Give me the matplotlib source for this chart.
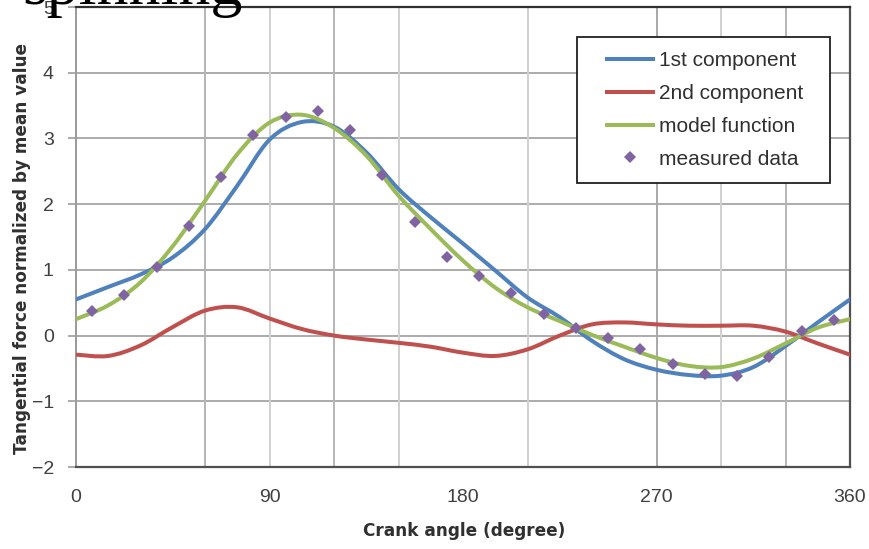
import numpy as np
import matplotlib
matplotlib.use("Agg")
import matplotlib.pyplot as plt
from matplotlib.path import Path
from matplotlib.patches import PathPatch, Rectangle
from matplotlib.lines import Line2D

# ---- data ----
angle = list(range(0, 361, 15))
first_component = [0.55, 0.74, 0.93, 1.19, 1.62, 2.28, 2.98, 3.25, 3.18, 2.79, 2.23, 1.80, 1.40,
                   0.99, 0.58, 0.28, -0.08, -0.36, -0.52, -0.60, -0.61, -0.48, -0.16, 0.20, 0.55]
second_component = [-0.29, -0.31, -0.15, 0.13, 0.38, 0.43, 0.26, 0.10, 0.00, -0.06, -0.11, -0.17, -0.26,
                    -0.31, -0.21, 0.00, 0.17, 0.20, 0.17, 0.15, 0.15, 0.15, 0.06, -0.12, -0.29]
model_function = [0.25, 0.46, 0.81, 1.36, 2.05, 2.76, 3.24, 3.36, 3.16, 2.74, 2.13, 1.62, 1.14,
                  0.73, 0.43, 0.22, 0.01, -0.17, -0.34, -0.46, -0.48, -0.35, -0.12, 0.12, 0.25]
meas_angle = [7.5 + 15 * k for k in range(24)]
measured = [0.37, 0.61, 1.04, 1.67, 2.41, 3.05, 3.32, 3.41, 3.13, 2.45, 1.73, 1.19,
            0.90, 0.65, 0.33, 0.12, -0.03, -0.21, -0.44, -0.59, -0.61, -0.33, 0.07, 0.24]
x_ticks = [0, 90, 180, 270, 360]
y_ticks = [-2, -1, 0, 1, 2, 3, 4, 5]

labels = ["1st component", "2nd component", "model function", "measured data"]
colors = ["#4F81BD", "#C0504D", "#9BBB59", "#8064A2"]


def smooth_path(xs, ys):
    """Excel-style smoothed line: Catmull-Rom segments drawn as cubic Beziers."""
    pts = np.column_stack([xs, ys]).astype(float)
    n = len(pts)
    verts = [pts[0]]
    codes = [Path.MOVETO]
    for i in range(n - 1):
        p0 = pts[i - 1] if i > 0 else pts[i]
        p1 = pts[i]
        p2 = pts[i + 1]
        p3 = pts[i + 2] if i + 2 < n else pts[i + 1]
        verts += [p1 + (p2 - p0) / 6.0, p2 - (p3 - p1) / 6.0, p2]
        codes += [Path.CURVE4] * 3
    return Path(verts, codes)


W, H = 869, 549
fig = plt.figure(figsize=(W / 100, H / 100), dpi=100)
ax = fig.add_axes([76 / W, 1 - 467 / H, (850 - 76) / W, (467 - 7) / H])

ax.set_xlim(0, 360)
ax.set_ylim(-2, 5)

# grid
for v in y_ticks[1:-1]:
    ax.axhline(v, color="#ababab", lw=1.4, zorder=1)
for v, c in [(60, "#b5b5b5"), (90, "#d0d0d0"), (120, "#b5b5b5"), (150, "#d0d0d0"),
             (210, "#d0d0d0"), (270, "#a8a8a8"), (300, "#d0d0d0"), (330, "#b5b5b5")]:
    ax.axvline(v, color=c, lw=1.4, zorder=1)

# smooth lines
for series, col in zip([second_component, first_component, model_function], [colors[1], colors[0], colors[2]]):
    patch = PathPatch(smooth_path(angle, series), facecolor="none", edgecolor=col,
                      lw=2.9, transform=ax.transData, zorder=3, capstyle="round", joinstyle="round")
    ax.add_patch(patch)

ax.plot(meas_angle, measured, linestyle="none", marker="D", markersize=6.5,
        color=colors[3], markeredgewidth=0, zorder=4)

# axes styling
ax.set_xticks(x_ticks)
ax.set_yticks(y_ticks)
ax.tick_params(axis="x", length=0, pad=16, labelsize=14, labelcolor="#404040")
ax.tick_params(axis="y", length=6, width=1.4, color="#ababab", pad=10, labelsize=14, labelcolor="#404040")
for lab in ax.get_xticklabels() + ax.get_yticklabels():
    lab.set_fontfamily("Liberation Sans")
for s in ["top", "right", "bottom"]:
    ax.spines[s].set_color("#505050")
    ax.spines[s].set_linewidth(1.6)
ax.spines["left"].set_color("#9a9a9a")
ax.spines["left"].set_linewidth(1.4)
ax.spines["top"].set_color("#303030")

ax.set_xlabel("Crank angle (degree)", fontsize=12.2, fontweight="bold", color="#303030", va="center")
ax.xaxis.set_label_coords((464 - 76) / 774, (467 - 531) / 460)
ax.set_ylabel("Tangential force normalized by mean value", fontsize=12.2, fontweight="bold",
              color="#303030", va="center")
ax.yaxis.set_label_coords((22 - 76) / 774, (467 - 248) / 460)

# legend box
x0, x1, y0, y1 = 577, 830, 37, 183
ax.add_patch(Rectangle(((x0 - 76) / 774, (467 - y1) / 460), (x1 - x0) / 774, (y1 - y0) / 460,
                       transform=ax.transAxes, facecolor="white", edgecolor="#202020", lw=1.3,
                       zorder=6, clip_on=False))
handles = [Line2D([], [], color=colors[0], lw=2.9),
           Line2D([], [], color=colors[1], lw=2.9),
           Line2D([], [], color=colors[2], lw=2.9),
           Line2D([], [], color=colors[3], linestyle="none", marker="D", markersize=6.5, markeredgewidth=0)]
leg = ax.legend(handles, labels, loc="center", bbox_to_anchor=((705 - 76) / 774, (467 - 110) / 460),
                frameon=False, prop={"family": "Liberation Sans", "size": 15},
                handlelength=2.2, handletextpad=0.3, labelspacing=0.66, borderpad=0.2)
leg.set_zorder(7)
for t in leg.get_texts():
    t.set_color("#303030")

# partially visible slide title at the very top
fig.text(22 / W, 1 - 4 / H, "spinning", fontsize=46, family="Liberation Serif",
         ha="left", va="baseline", color="black", zorder=10)

fig.savefig("out.png", dpi=100)
